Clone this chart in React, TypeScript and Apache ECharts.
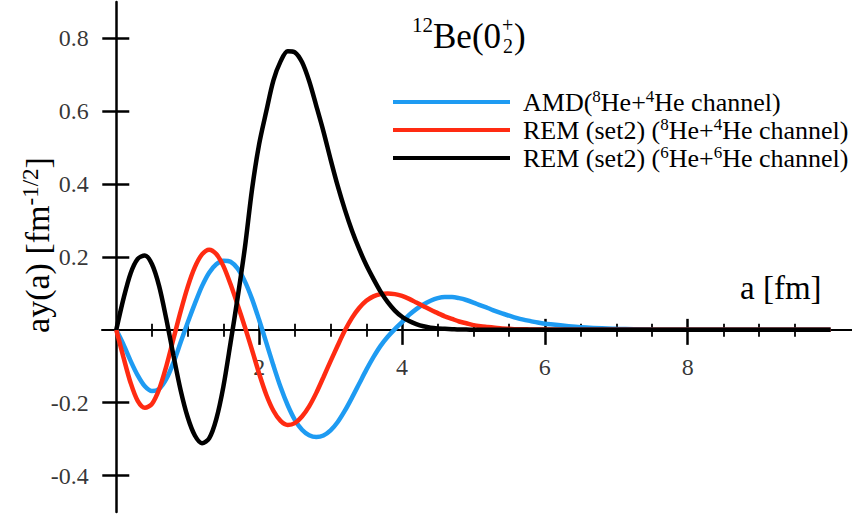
import React, { useEffect, useRef } from "react";
import * as echarts from "echarts";

// a [fm] sample positions
const aValues = [
  0, 0.1, 0.2, 0.3, 0.4, 0.5, 0.6, 0.7, 0.8, 0.9,
  1.0, 1.1, 1.2, 1.3, 1.4, 1.5, 1.6, 1.7, 1.8, 1.9,
  2.0, 2.1, 2.2, 2.3, 2.4, 2.5, 2.6, 2.7, 2.8, 2.9,
  3.0, 3.1, 3.2, 3.3, 3.4, 3.5, 3.6, 3.7, 3.8, 3.9,
  4.0, 4.1, 4.2, 4.3, 4.4, 4.5, 4.6, 4.7, 4.8, 4.9,
  5.0, 5.1, 5.2, 5.3, 5.4, 5.5, 5.6, 5.7, 5.8, 5.9,
  6.0, 6.5, 7.0, 7.5, 8.0, 9.0, 10.0,
];

// AMD (8He+4He channel)
const amdValues = [
  0, -0.04, -0.085, -0.125, -0.155, -0.168, -0.162, -0.135, -0.09, -0.035,
  0.02, 0.072, 0.12, 0.157, 0.18, 0.19, 0.187, 0.168, 0.133, 0.085,
  0.027, -0.035, -0.098, -0.157, -0.207, -0.247, -0.274, -0.289, -0.294, -0.29,
  -0.276, -0.253, -0.222, -0.186, -0.148, -0.11, -0.075, -0.044, -0.019, 0.002,
  0.021, 0.041, 0.057, 0.07, 0.08, 0.087, 0.09, 0.09, 0.087, 0.082,
  0.075, 0.067, 0.06, 0.052, 0.045, 0.039, 0.033, 0.028, 0.024, 0.02,
  0.017, 0.007, 0.003, 0.001, 0, 0, 0,
];

// REM (set2) (8He+4He channel)
const rem84Values = [
  0, -0.075, -0.145, -0.195, -0.214, -0.203, -0.163, -0.1, -0.025, 0.05,
  0.118, 0.172, 0.207, 0.22, 0.208, 0.175, 0.125, 0.068, 0.008, -0.055,
  -0.12, -0.178, -0.222, -0.25, -0.261, -0.256, -0.238, -0.21, -0.173, -0.13,
  -0.086, -0.043, -0.002, 0.033, 0.06, 0.08, 0.092, 0.098, 0.1, 0.098,
  0.093, 0.085, 0.075, 0.065, 0.055, 0.046, 0.037, 0.03, 0.023, 0.018,
  0.013, 0.01, 0.008, 0.006, 0.004, 0.003, 0.002, 0.002, 0.001, 0.001,
  0.001, 0, 0, 0, 0, 0, 0,
];

// REM (set2) (6He+6He channel)
const rem66Values = [
  0, 0.085, 0.155, 0.195, 0.204, 0.18, 0.12, 0.03, -0.07, -0.165,
  -0.24, -0.29, -0.311, -0.298, -0.245, -0.155, -0.035, 0.09, 0.225, 0.385,
  0.51, 0.6, 0.685, 0.737, 0.765, 0.762, 0.735, 0.683, 0.615, 0.545,
  0.468, 0.395, 0.33, 0.272, 0.222, 0.178, 0.14, 0.105, 0.076, 0.053,
  0.036, 0.024, 0.016, 0.01, 0.006, 0.004, 0.003, 0.002, 0.001, 0.001,
  0, 0, 0, 0, 0, 0, 0, 0, 0, 0,
  0, 0, 0, 0, 0, 0, 0,
];

const seriesNames = [
  "AMD(8He+4He channel)",
  "REM (set2) (8He+4He channel)",
  "REM (set2) (6He+6He channel)",
];
const legendLabels = [
  "AMD({s|8}He+{s|4}He channel)",
  "REM (set2) ({s|8}He+{s|4}He channel)",
  "REM (set2) ({s|6}He+{s|6}He channel)",
];
const seriesColors = ["#1E9BF2", "#FF2B12", "#000000"];

const xMajorTicks = [2, 4, 6, 8];
const xMinorTicks = [0.5, 1, 1.5, 2.5, 3, 3.5, 4.5, 5, 5.5, 6.5, 7, 7.5, 8.5, 9, 9.5];
const yTicks = [-0.4, -0.2, 0.2, 0.4, 0.6, 0.8];

const X_MIN = -0.2;
const X_MAX = 10.3;
const Y_MIN = -0.5;
const Y_MAX = 0.9;

const FONT = "Liberation Serif";

export default function App() {
  const ref = useRef<HTMLDivElement>(null);

  useEffect(() => {
    if (!ref.current) return;
    const chart = echarts.init(ref.current, undefined, { renderer: "svg" });

    const W = 852;
    const H = 517;
    const grid = { left: 102, right: 0, top: 2, bottom: 5 };
    const gw = W - grid.left - grid.right;
    const gh = H - grid.top - grid.bottom;
    // place axes through the origin (axis offsets derived from the ranges)
    const xOffset = -(gh * (0 - Y_MIN)) / (Y_MAX - Y_MIN);
    const yOffset = -(gw * (0 - X_MIN)) / (X_MAX - X_MIN);

    const seriesData = [amdValues, rem84Values, rem66Values];

    const xBase = (extra: any) => ({
      type: "value",
      min: X_MIN,
      max: X_MAX,
      position: "bottom",
      offset: xOffset,
      splitLine: { show: false },
      axisLine: { show: false, onZero: false },
      axisLabel: { show: false },
      axisTick: { show: false },
      ...extra,
    });
    const yBase = (extra: any) => ({
      type: "value",
      min: Y_MIN,
      max: Y_MAX,
      position: "left",
      offset: yOffset,
      splitLine: { show: false },
      axisLine: { show: false, onZero: false },
      axisLabel: { show: false },
      axisTick: { show: false },
      ...extra,
    });

    const tickLabelSeries = (data: number[][], position: string, distance: number, dim: number) => ({
      type: "scatter",
      xAxisIndex: 0,
      yAxisIndex: 0,
      silent: true,
      symbol: "circle",
      symbolSize: 1,
      itemStyle: { color: "rgba(0,0,0,0)" },
      data,
      z: 2,
      label: {
        show: true,
        position,
        distance,
        fontFamily: FONT,
        fontSize: 24,
        color: "#000",
        formatter: (p: any) => String(p.value[dim]),
      },
    });

    const option: any = {
      animation: false,
      backgroundColor: "#ffffff",
      textStyle: { fontFamily: FONT, color: "#000" },
      grid: {
        ...grid,
        containLabel: false,
        outerBoundsMode: "none",
      },
      xAxis: [
        xBase({
          axisLine: { show: true, onZero: false, lineStyle: { color: "#000", width: 2 } },
          axisTick: { show: true, customValues: xMajorTicks, length: 15, lineStyle: { color: "#000", width: 2.5 } },
        }),
        xBase({
          axisTick: { show: true, inside: true, customValues: xMajorTicks, length: 11, lineStyle: { color: "#000", width: 2.5 } },
        }),
        xBase({
          axisTick: { show: true, customValues: xMinorTicks, length: 7, lineStyle: { color: "#000", width: 1.8 } },
        }),
        xBase({
          axisTick: { show: true, inside: true, customValues: xMinorTicks, length: 6, lineStyle: { color: "#000", width: 1.8 } },
        }),
      ],
      yAxis: [
        yBase({
          axisLine: { show: true, onZero: false, lineStyle: { color: "#000", width: 2.5 } },
          axisTick: { show: true, customValues: yTicks, length: 14, lineStyle: { color: "#000", width: 2.5 } },
        }),
        yBase({
          axisTick: { show: true, inside: true, customValues: yTicks, length: 13, lineStyle: { color: "#000", width: 2.5 } },
        }),
      ],
      legend: {
        data: seriesNames,
        orient: "vertical",
        left: 393,
        top: 88,
        padding: 0,
        itemGap: 0,
        itemWidth: 117,
        itemHeight: 4,
        icon: "rect",
        formatter: (name: string) => legendLabels[seriesNames.indexOf(name)],
        textStyle: {
          fontFamily: FONT,
          fontSize: 26,
          color: "#000",
          lineHeight: 28,
          padding: [0, 0, 0, 8],
          rich: {
            s: { fontFamily: FONT, fontSize: 17, color: "#000", verticalAlign: "top", lineHeight: 17 },
          },
        },
      },
      graphic: [
        {
          type: "text",
          x: 37,
          y: 245,
          rotation: Math.PI / 2,
          style: {
            text: "ay(a) [fm{s|-1/2}]",
            fontFamily: FONT,
            fontSize: 34,
            fill: "#000",
            align: "center",
            verticalAlign: "middle",
            lineHeight: 36,
            rich: {
              s: { fontFamily: FONT, fontSize: 23, fill: "#000", verticalAlign: "top", lineHeight: 23 },
            },
          },
        },
        {
          type: "text",
          x: 740,
          y: 288,
          style: { text: "a [fm]", fontFamily: FONT, fontSize: 33, fill: "#000", align: "left", verticalAlign: "middle" },
        },
        {
          type: "text",
          x: 412,
          y: 25,
          style: { text: "12", fontFamily: FONT, fontSize: 21, fill: "#000", align: "left", verticalAlign: "middle" },
        },
        {
          type: "text",
          x: 433,
          y: 36,
          style: { text: "Be(0", fontFamily: FONT, fontSize: 35, fill: "#000", align: "left", verticalAlign: "middle" },
        },
        {
          type: "text",
          x: 502,
          y: 25,
          style: { text: "+", fontFamily: FONT, fontSize: 20, fill: "#000", align: "left", verticalAlign: "middle" },
        },
        {
          type: "text",
          x: 503,
          y: 46,
          style: { text: "2", fontFamily: FONT, fontSize: 20, fill: "#000", align: "left", verticalAlign: "middle" },
        },
        {
          type: "text",
          x: 514,
          y: 36,
          style: { text: ")", fontFamily: FONT, fontSize: 35, fill: "#000", align: "left", verticalAlign: "middle" },
        },
      ],
      series: [
        ...seriesNames.map((name, k) => ({
          name,
          type: "line",
          xAxisIndex: 0,
          yAxisIndex: 0,
          data: aValues.map((a, i) => [a, seriesData[k][i]]),
          symbol: "none",
          smooth: 0.3,
          color: seriesColors[k],
          lineStyle: { color: seriesColors[k], width: 4.5 },
          z: 3 + k,
        })),
        tickLabelSeries(xMajorTicks.map((v) => [v, 0]), "bottom", 25, 0),
        tickLabelSeries(yTicks.map((v) => [0, v]), "left", 27, 1),
      ],
    };

    chart.setOption(option);
    return () => {
      chart.dispose();
    };
  }, []);

  return (
    <div
      ref={ref}
      style={{ position: "fixed", left: 0, top: 0, width: 852, height: 517, background: "#fff" }}
    />
  );
}
